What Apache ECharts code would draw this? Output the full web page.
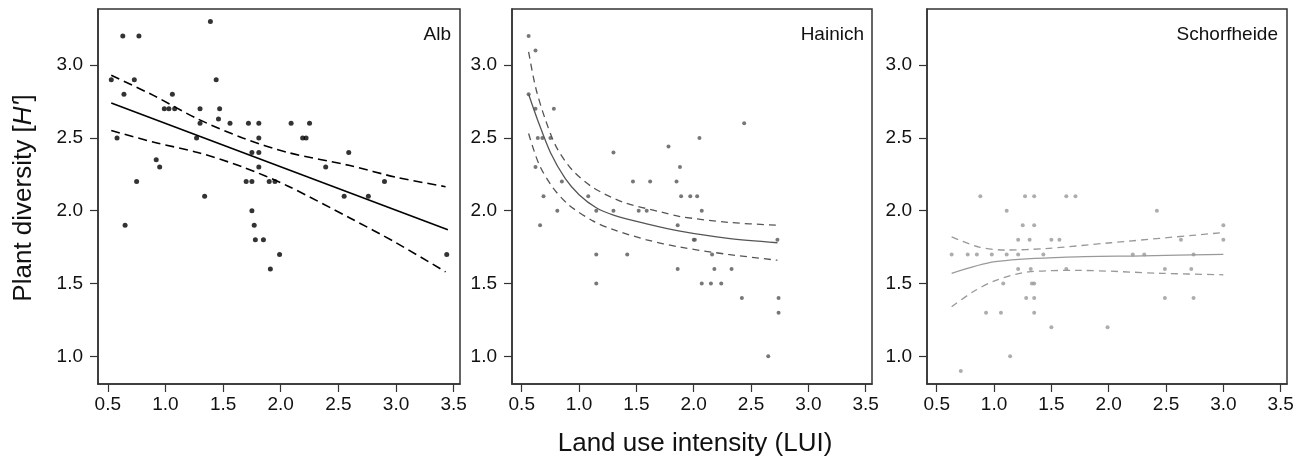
<!DOCTYPE html>
<html>
<head>
<meta charset="utf-8">
<script src="https://cdn.jsdelivr.net/npm/echarts@6/dist/echarts.min.js"></script>
<style>
html, body { margin: 0; padding: 0; background: #fff; }
#chart { width: 1305px; height: 459px; }
</style>
</head>
<body>
<div id="chart"></div>
<script>
// Alb plots
var albX = [0.53, 0.63, 0.77, 1.39, 0.73, 1.44, 0.64, 1.06, 0.99, 1.03, 1.08, 1.30, 1.47, 1.46, 1.30, 1.56, 1.72,
	1.81, 2.09, 2.25, 0.58, 1.27, 1.81, 2.19, 2.22, 1.75, 1.81, 2.59, 0.92, 0.95, 1.81, 2.39, 0.75, 1.70, 1.75,
	1.90, 1.95, 2.90, 1.34, 2.55, 2.76, 1.75, 0.65, 1.77, 1.78, 1.85, 1.99, 1.91, 3.44];
var albY = [2.9, 3.2, 3.2, 3.3, 2.9, 2.9, 2.8, 2.8, 2.7, 2.7, 2.7, 2.7, 2.7, 2.63, 2.6, 2.6, 2.6,
	2.6, 2.6, 2.6, 2.5, 2.5, 2.5, 2.5, 2.5, 2.4, 2.4, 2.4, 2.35, 2.3, 2.3, 2.3, 2.2, 2.2, 2.2,
	2.2, 2.2, 2.2, 2.1, 2.1, 2.1, 2.0, 1.9, 1.9, 1.8, 1.8, 1.7, 1.6, 1.7];
var albFitX = [0.53, 3.45];
var albFitY = [2.74, 1.87];
var albUpX = [0.53, 0.90, 1.28, 1.67, 2.06, 2.60, 3.00, 3.43];
var albUpY = [2.93, 2.79, 2.63, 2.50, 2.40, 2.31, 2.23, 2.165];
var albLoX = [0.53, 0.90, 1.28, 1.67, 2.06, 2.60, 3.00, 3.43];
var albLoY = [2.55, 2.47, 2.40, 2.30, 2.17, 1.95, 1.78, 1.58];

// Hainich plots
var haiX = [0.56, 0.62, 0.56, 0.62, 0.78, 0.64, 0.68, 0.75, 0.62, 1.30, 1.78, 2.44, 2.05, 1.88, 0.85, 1.47,
	1.62, 1.85, 0.69, 1.08, 1.89, 1.97, 2.03, 0.81, 1.15, 1.30, 1.52, 1.59, 2.07, 0.66, 1.86, 2.00, 2.01,
	2.73, 1.15, 1.42, 2.16, 1.86, 2.18, 2.33, 1.15, 2.07, 2.15, 2.24, 2.42, 2.74, 2.74, 2.65];
var haiY = [3.2, 3.1, 2.8, 2.7, 2.7, 2.5, 2.5, 2.5, 2.3, 2.4, 2.44, 2.6, 2.5, 2.3, 2.2, 2.2,
	2.2, 2.2, 2.1, 2.1, 2.1, 2.1, 2.1, 2.0, 2.0, 2.0, 2.0, 2.0, 2.0, 1.9, 1.9, 1.8, 1.8,
	1.8, 1.7, 1.7, 1.7, 1.6, 1.6, 1.6, 1.5, 1.5, 1.5, 1.5, 1.4, 1.4, 1.3, 1.0];
var haiFitX = [0.56, 0.64, 0.75, 0.88, 1.00, 1.15, 1.30, 1.59, 1.88, 2.30, 2.73];
var haiFitY = [2.80, 2.62, 2.40, 2.22, 2.11, 2.02, 1.97, 1.91, 1.86, 1.81, 1.78];
var haiUpX = [0.56, 0.62, 0.70, 0.80, 0.94, 1.12, 1.38, 1.72, 1.88, 2.30, 2.73];
var haiUpY = [3.09, 2.85, 2.64, 2.44, 2.28, 2.16, 2.06, 1.99, 1.96, 1.92, 1.90];
var haiLoX = [0.56, 0.65, 0.77, 0.91, 1.12, 1.30, 1.59, 1.88, 2.30, 2.73];
var haiLoY = [2.53, 2.32, 2.16, 2.04, 1.93, 1.87, 1.80, 1.75, 1.70, 1.66];

// Schorfheide plots
var schX = [0.88, 1.27, 1.35, 1.63, 1.71, 1.11, 2.42, 1.25, 1.35, 3.00, 1.21, 1.31, 1.50, 1.57, 2.63, 3.00,
	0.63, 0.77, 0.85, 0.98, 1.11, 1.21, 1.43, 2.21, 2.31, 2.74, 1.21, 1.32, 1.63, 2.49, 2.72, 1.08, 1.33,
	1.35, 1.28, 1.35, 2.49, 2.74, 0.93, 1.06, 1.35, 1.50, 1.99, 1.14, 0.71];
var schY = [2.1, 2.1, 2.1, 2.1, 2.1, 2.0, 2.0, 1.9, 1.9, 1.9, 1.8, 1.8, 1.8, 1.8, 1.8, 1.8,
	1.7, 1.7, 1.7, 1.7, 1.7, 1.7, 1.7, 1.7, 1.7, 1.7, 1.6, 1.6, 1.6, 1.6, 1.6, 1.5, 1.5,
	1.5, 1.4, 1.4, 1.4, 1.4, 1.3, 1.3, 1.3, 1.2, 1.2, 1.0, 0.9];
var schFitX = [0.63, 1.01, 1.59, 2.30, 3.00];
var schFitY = [1.57, 1.65, 1.68, 1.69, 1.70];
var schUpX = [0.63, 0.87, 1.10, 1.45, 2.02, 3.00];
var schUpY = [1.82, 1.75, 1.73, 1.74, 1.78, 1.85];
var schLoX = [0.63, 0.81, 1.01, 1.30, 1.73, 2.46, 3.00];
var schLoY = [1.34, 1.44, 1.52, 1.58, 1.59, 1.57, 1.56];

var xTicks = [0.5, 1.0, 1.5, 2.0, 2.5, 3.0, 3.5];
var yTicks = [1.0, 1.5, 2.0, 2.5, 3.0];
var panelNames = ['Alb', 'Hainich', 'Schorfheide'];

var FONT = '"Liberation Sans", Arial, sans-serif';

function pairs(xs, ys) {
	return xs.map(function (x, i) { return [x, ys[i]]; });
}

var panels = [
	{ pts: pairs(albX, albY), fit: pairs(albFitX, albFitY), up: pairs(albUpX, albUpY), lo: pairs(albLoX, albLoY),
		color: '#000', dotSize: 5, lineWidth: 1.6, dash: [9, 5], smooth: 0.3 },
	{ pts: pairs(haiX, haiY), fit: pairs(haiFitX, haiFitY), up: pairs(haiUpX, haiUpY), lo: pairs(haiLoX, haiLoY),
		color: '#555', dotSize: 4, lineWidth: 1.3, dash: [7, 5], smooth: 0.3 },
	{ pts: pairs(schX, schY), fit: pairs(schFitX, schFitY), up: pairs(schUpX, schUpY), lo: pairs(schLoX, schLoY),
		color: '#999', dotSize: 4, lineWidth: 1.3, dash: [7, 5], smooth: 0.3 }
];

var grids = [
	{ left: 98, top: 9, width: 362, height: 375 },
	{ left: 512, top: 9, width: 360, height: 375 },
	{ left: 927, top: 9, width: 360, height: 375 }
];
var titleRight = [854, 441, 27];

var xAxes = [], yAxes = [], series = [], titles = [];
grids.forEach(function (g, i) {
	g.show = true;
	g.borderColor = '#333';
	g.borderWidth = 1.5;
	g.backgroundColor = 'transparent';

	xAxes.push({
		type: 'value', gridIndex: i, min: 0.415, max: 3.555,
		splitLine: { show: false },
		axisLine: { show: true, onZero: false, lineStyle: { color: '#333', width: 1.5 } },
		axisTick: { show: true, inside: false, length: 8, customValues: xTicks, lineStyle: { color: '#333', width: 1.2 } },
		axisLabel: { customValues: xTicks, margin: 11, fontSize: 19, color: '#111', fontFamily: FONT,
			formatter: function (v) { return v.toFixed(1); } }
	});
	yAxes.push({
		type: 'value', gridIndex: i, min: 0.81, max: 3.385,
		splitLine: { show: false },
		axisLine: { show: true, onZero: false, lineStyle: { color: '#333', width: 1.5 } },
		axisTick: { show: true, inside: false, length: 8, customValues: yTicks, lineStyle: { color: '#333', width: 1.2 } },
		axisLabel: { customValues: yTicks, margin: 15, fontSize: 19, color: '#111', fontFamily: FONT,
			formatter: function (v) { return v.toFixed(1); } }
	});
	titles.push({
		text: panelNames[i], right: titleRight[i], top: 25, padding: 0,
		textStyle: { fontSize: 19, fontWeight: 'normal', color: '#111', fontFamily: FONT }
	});

	var p = panels[i];
	series.push({
		type: 'scatter', xAxisIndex: i, yAxisIndex: i, data: p.pts,
		symbolSize: p.dotSize, itemStyle: { color: p.color }, silent: true
	});
	[['fit', 'solid'], ['up', p.dash], ['lo', p.dash]].forEach(function (l) {
		series.push({
			type: 'line', xAxisIndex: i, yAxisIndex: i, data: p[l[0]],
			showSymbol: false, smooth: p.smooth, silent: true,
			lineStyle: { color: p.color, width: p.lineWidth, type: l[1] }
		});
	});
});

var myChart = echarts.init(document.getElementById('chart'), null, { renderer: 'canvas' });
var option = {
	animation: false,
	backgroundColor: '#fff',
	title: titles,
	grid: grids,
	xAxis: xAxes,
	yAxis: yAxes,
	series: series,
	graphic: [
		{
			type: 'text', x: 24, y: 198, rotation: Math.PI / 2,
			style: {
				text: 'Plant diversity [{i|H\'}]', align: 'center', verticalAlign: 'middle',
				fontSize: 26, fontFamily: FONT, fill: '#111',
				rich: { i: { fontSize: 26, fontFamily: FONT, fontStyle: 'italic', fill: '#111' } }
			}
		},
		{
			type: 'text', x: 695, y: 444,
			style: {
				text: 'Land use intensity (LUI)', align: 'center', verticalAlign: 'middle',
				fontSize: 26, fontFamily: FONT, fill: '#111'
			}
		}
	]
};
myChart.setOption(option);
</script>
</body>
</html>
